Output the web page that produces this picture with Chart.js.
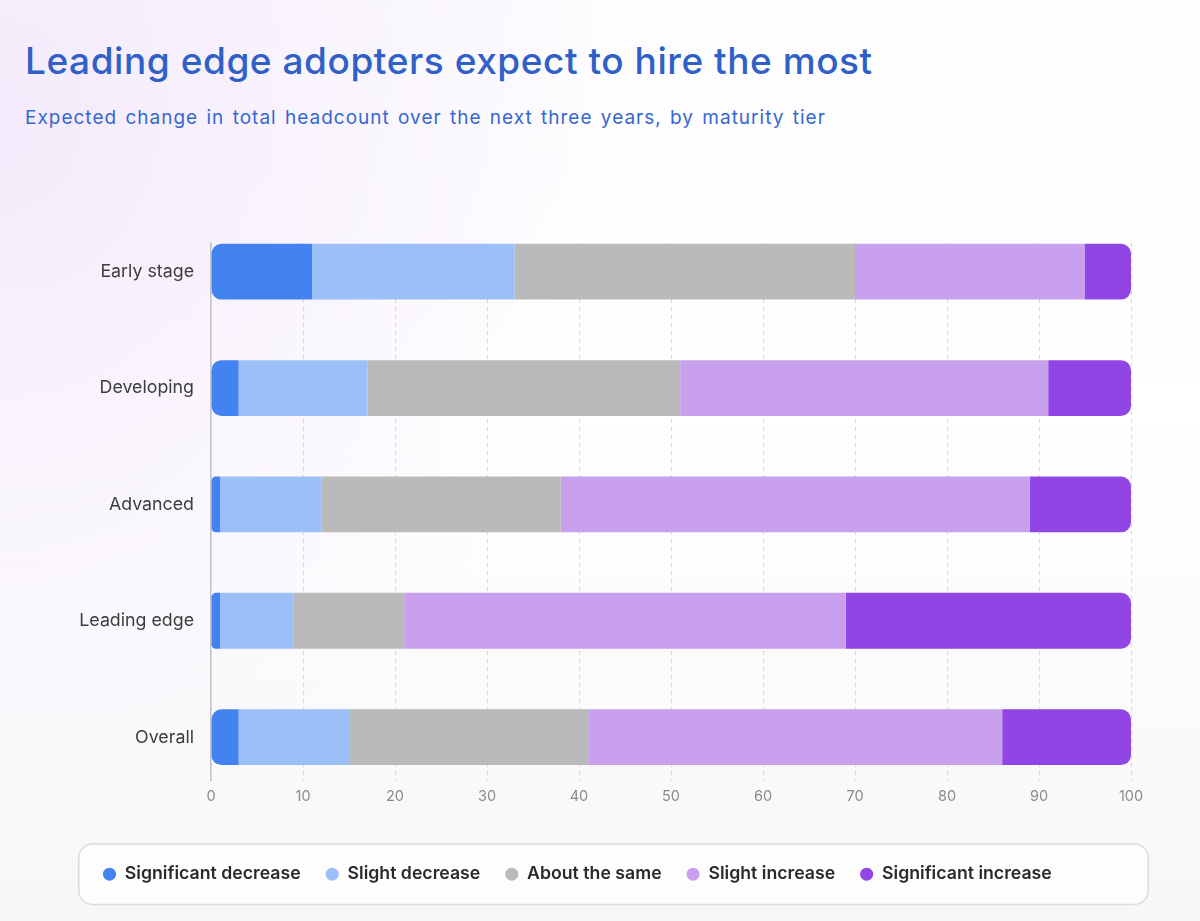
<!DOCTYPE html>
<html>
<head>
<meta charset="utf-8">
<script src="https://cdn.jsdelivr.net/npm/chart.js@4.4.1/dist/chart.umd.min.js"></script>
<style>
  html, body { margin: 0; padding: 0; width: 1200px; height: 921px; overflow: hidden; }
  body {
    font-family: Inter, "Noto Sans", sans-serif;
    background:
      radial-gradient(ellipse 620px 700px at 0px 120px, rgba(243,233,251,0.95) 0%, rgba(255,255,255,0) 100%),
      linear-gradient(to bottom, #fdfcfe 0%, #ffffff 45%, #f7f7f8 100%);
  }
  #title { position: absolute; left: 25px; top: 42px; margin: 0; font-size: 37px; line-height: 37px; font-weight: 500; color: #2f60c8; white-space: nowrap; letter-spacing: 0.55px; }
  #subtitle { position: absolute; left: 25px; top: 108px; margin: 0; font-size: 19px; line-height: 19px; font-weight: 400; color: #3568d0; white-space: nowrap; letter-spacing: 1px; word-spacing: 2px; }
  #wrap { position: absolute; left: 0; top: 0; width: 1200px; height: 921px; }
</style>
</head>
<body>
<h1 id="title">Leading edge adopters expect to hire the most</h1>
<p id="subtitle">Expected change in total headcount over the next three years, by maturity tier</p>
<div id="wrap"><canvas id="c"></canvas></div>
<script>
// ---- data ----
const categories = ['Early stage', 'Developing', 'Advanced', 'Leading edge', 'Overall'];
const seriesNames = ['Significant decrease', 'Slight decrease', 'About the same', 'Slight increase', 'Significant increase'];
const significantDecrease = [11, 3, 1, 1, 3];
const slightDecrease = [22, 14, 11, 8, 12];
const aboutTheSame = [37, 34, 26, 12, 26];
const slightIncrease = [25, 40, 51, 48, 45];
const significantIncrease = [5, 9, 11, 31, 14];
const xTickValues = [0, 10, 20, 30, 40, 50, 60, 70, 80, 90, 100];
const seriesColors = ['#4282f1', '#9dbff7', '#bababa', '#c8a0ee', '#9145e5'];

const seriesValues = [significantDecrease, slightDecrease, aboutTheSame, slightIncrease, significantIncrease];
const R = 10;
const datasets = seriesValues.map((vals, s) => ({
  label: seriesNames[s],
  data: vals.map((v, i) => ({ x: v, y: i })),
  backgroundColor: seriesColors[s],
  borderWidth: 0,
  borderSkipped: false,
  stack: 'total',
  borderRadius: s === 0 ? { topLeft: R, bottomLeft: R, topRight: 0, bottomRight: 0 }
              : s === seriesValues.length - 1 ? { topLeft: 0, bottomLeft: 0, topRight: R, bottomRight: R }
              : 0,
  categoryPercentage: 0.8,
  barPercentage: 0.6
}));

const legendBox = {
  id: 'legendBox',
  beforeDraw(chart) {
    const lg = chart.legend;
    if (!lg) return;
    const ctx = chart.ctx;
    const cy = lg.top + 25 + 17.7 / 2;
    const x = lg.left, w = lg.width + 18, y = cy - 31, h = 62;
    ctx.save();
    ctx.beginPath();
    ctx.roundRect(x + 0.75, y + 0.75, w - 1.5, h - 1.5, 14);
    ctx.fillStyle = 'rgba(253,253,254,0.9)';
    ctx.fill();
    ctx.strokeStyle = '#dcdce0';
    ctx.lineWidth = 1.5;
    ctx.stroke();
    ctx.restore();
  }
};

Chart.defaults.font.family = 'Inter, "Noto Sans", sans-serif';

new Chart(document.getElementById('c'), {
  type: 'bar',
  data: { labels: categories, datasets },
  plugins: [legendBox],
  options: {
    indexAxis: 'y',
    responsive: true,
    maintainAspectRatio: false,
    animation: false,
    layout: { padding: { left: 78, right: 69, top: 243, bottom: 28 } },
    scales: {
      x: {
        type: 'linear',
        stacked: true,
        min: 0,
        max: 100,
        afterBuildTicks: (scale) => { scale.ticks = xTickValues.map(v => ({ value: v })); },
        afterFit: (scale) => { scale.height = 59.5; },
        grid: { color: '#d9d9dc', lineWidth: 1, drawTicks: false },
        border: { display: false, dash: [4, 4] },
        ticks: { color: '#8a8a8a', font: { size: 14.5 }, padding: 7, maxRotation: 0 }
      },
      y: {
        type: 'linear',
        reverse: true,
        offset: false,
        min: -0.2466,
        max: 4.375,
        afterBuildTicks: (scale) => { scale.ticks = categories.map((_, i) => ({ value: i })); },
        afterFit: (scale) => { scale.width = 133; },
        grid: { display: false, drawTicks: false },
        border: { display: true, color: '#c6c6c8', width: 1.5 },
        ticks: {
          color: '#3d3d3d',
          font: { size: 17.8 },
          padding: 17,
          callback: (v) => categories[v]
        }
      }
    },
    plugins: {
      legend: {
        position: 'bottom',
        align: 'start',
        labels: {
          usePointStyle: true,
          pointStyle: 'circle',
          boxWidth: 13,
          boxHeight: 9.2,
          padding: 25,
          color: '#2a2a2a',
          font: { size: 17.7, weight: '600' }
        }
      },
      tooltip: { enabled: true }
    }
  }
});
</script>
</body>
</html>
